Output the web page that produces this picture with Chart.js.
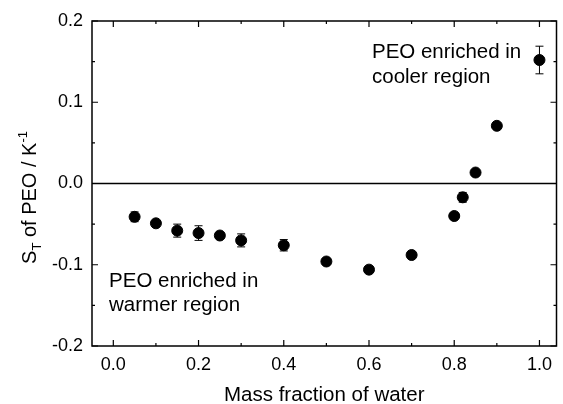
<!DOCTYPE html>
<html>
<head>
<meta charset="utf-8">
<script src="https://cdn.jsdelivr.net/npm/chart.js@4.4.0/dist/chart.umd.min.js"></script>
<style>
html, body { margin: 0; padding: 0; background: #fff; }
#wrap { width: 563px; height: 404px; }
</style>
</head>
<body>
<div id="wrap"><canvas id="myChart" width="563" height="404"></canvas></div>
<script>
// mass fraction of water vs Soret coefficient of PEO
const waterFraction = [0.05, 0.1, 0.15, 0.2, 0.25, 0.3, 0.4, 0.5, 0.6, 0.7, 0.8, 0.82, 0.85, 0.9, 1.0];
const soretPEO = [-0.041, -0.049, -0.058, -0.061, -0.064, -0.070, -0.076, -0.096, -0.106, -0.088, -0.040, -0.017, 0.0135, 0.071, 0.152];
const soretErr = [0.006, 0.003, 0.008, 0.009, 0.003, 0.008, 0.007, 0.003, 0.003, 0.003, 0.003, 0.006, 0.003, 0.003, 0.017];

const xTicks = [0, 0.2, 0.4, 0.6, 0.8, 1.0];
const xMinor = [0.1, 0.3, 0.5, 0.7, 0.9];
const yTicks = [-0.2, -0.1, 0, 0.1, 0.2];
const yMinor = [-0.15, -0.05, 0.05, 0.15];

const noteWarm = ['PEO enriched in', 'warmer region'];
const noteCool = ['PEO enriched in', 'cooler region'];
const xTitle = 'Mass fraction of water';

const FONT = "'Liberation Sans', Arial, sans-serif";

let points = [];
for (let i in waterFraction) {
    points.push({ x: waterFraction[i], y: soretPEO[i] });
}

const frame = {
    id: 'frame',
    beforeDatasetsDraw(chart) {
        let ctx = chart.ctx;
        let xs = chart.scales.x, ys = chart.scales.y;
        let a = chart.chartArea;
        ctx.save();
        // zero line
        ctx.strokeStyle = '#000';
        ctx.lineWidth = 1.5;
        ctx.beginPath();
        ctx.moveTo(a.left, ys.getPixelForValue(0));
        ctx.lineTo(a.right, ys.getPixelForValue(0));
        ctx.stroke();
        // error bars
        ctx.lineWidth = 1;
        for (let i in waterFraction) {
            let px = xs.getPixelForValue(waterFraction[i]);
            let top = ys.getPixelForValue(soretPEO[i] + soretErr[i]);
            let bot = ys.getPixelForValue(soretPEO[i] - soretErr[i]);
            ctx.beginPath();
            ctx.moveTo(px, top); ctx.lineTo(px, bot);
            ctx.moveTo(px - 4, top); ctx.lineTo(px + 4, top);
            ctx.moveTo(px - 4, bot); ctx.lineTo(px + 4, bot);
            ctx.stroke();
        }
        ctx.restore();
    },
    afterDraw(chart) {
        let ctx = chart.ctx;
        let xs = chart.scales.x, ys = chart.scales.y;
        let a = chart.chartArea;
        ctx.save();
        ctx.strokeStyle = '#000';
        ctx.lineWidth = 1.5;
        ctx.strokeRect(a.left, a.top, a.right - a.left, a.bottom - a.top);

        // inward ticks on all four sides
        ctx.lineWidth = 1.2;
        ctx.beginPath();
        let tickX = function (vals, len) {
            for (let v of vals) {
                let p = xs.getPixelForValue(v);
                ctx.moveTo(p, a.bottom); ctx.lineTo(p, a.bottom - len);
                ctx.moveTo(p, a.top); ctx.lineTo(p, a.top + len);
            }
        };
        let tickY = function (vals, len) {
            for (let v of vals) {
                let p = ys.getPixelForValue(v);
                ctx.moveTo(a.left, p); ctx.lineTo(a.left + len, p);
                ctx.moveTo(a.right, p); ctx.lineTo(a.right - len, p);
            }
        };
        tickX(xTicks, 6); tickX(xMinor, 3);
        tickY(yTicks, 6); tickY(yMinor, 3);
        ctx.stroke();

        // notes
        ctx.fillStyle = '#000';
        ctx.font = '20.5px ' + FONT;
        ctx.textAlign = 'left';
        ctx.textBaseline = 'middle';
        let lx = xs.getPixelForValue(-0.01), ly = ys.getPixelForValue(-0.121);
        ctx.fillText(noteWarm[0], lx, ly);
        ctx.fillText(noteWarm[1], lx, ly + 24);
        let rx = xs.getPixelForValue(0.607), ry = ys.getPixelForValue(0.162);
        ctx.fillText(noteCool[0], rx, ry);
        ctx.fillText(noteCool[1], rx, ry + 25);

        // x title
        ctx.textAlign = 'center';
        ctx.fillText(xTitle, (a.left + a.right) / 2, 395);

        // y title with sub/superscript, rotated
        ctx.translate(36, (a.top + a.bottom) / 2 + 14);
        ctx.rotate(-Math.PI / 2);
        ctx.textAlign = 'left';
        ctx.textBaseline = 'alphabetic';
        let big = '20px ' + FONT, small = '13px ' + FONT;
        let parts = [
            { t: 'S', f: big, dy: 0 },
            { t: 'T', f: small, dy: 5 },
            { t: ' of PEO / K', f: big, dy: 0 },
            { t: '-1', f: small, dy: -9 }
        ];
        let total = 0;
        for (let p of parts) { ctx.font = p.f; total += ctx.measureText(p.t).width; }
        let cx = -total / 2;
        for (let p of parts) {
            ctx.font = p.f;
            ctx.fillText(p.t, cx, p.dy);
            cx += ctx.measureText(p.t).width;
        }
        ctx.restore();
    }
};

new Chart(document.getElementById('myChart'), {
    type: 'scatter',
    data: {
        datasets: [{
            label: 'S_T',
            data: points,
            backgroundColor: '#000',
            borderColor: '#000',
            pointRadius: 5.5,
            pointHoverRadius: 5.5
        }]
    },
    options: {
        responsive: false,
        animation: false,
        devicePixelRatio: 1,
        layout: { padding: { top: 21, right: 4, left: 0, bottom: 0 } },
        plugins: { legend: { display: false }, tooltip: { enabled: false } },
        scales: {
            x: {
                type: 'linear',
                min: -0.05,
                max: 1.04,
                afterBuildTicks: function (s) { s.ticks = xTicks.map(v => ({ value: v })); },
                afterFit: function (s) { s.height = 58; },
                grid: { display: false, drawTicks: false },
                border: { display: false },
                ticks: {
                    color: '#000',
                    padding: 8,
                    font: { family: FONT, size: 18 },
                    callback: v => v.toFixed(1)
                }
            },
            y: {
                min: -0.2,
                max: 0.2,
                afterBuildTicks: function (s) { s.ticks = yTicks.map(v => ({ value: v })); },
                afterFit: function (s) { s.width = 92; },
                grid: { display: false, drawTicks: false },
                border: { display: false },
                ticks: {
                    color: '#000',
                    padding: 9,
                    font: { family: FONT, size: 18 },
                    callback: v => v.toFixed(1)
                }
            }
        }
    },
    plugins: [frame]
});
</script>
</body>
</html>
